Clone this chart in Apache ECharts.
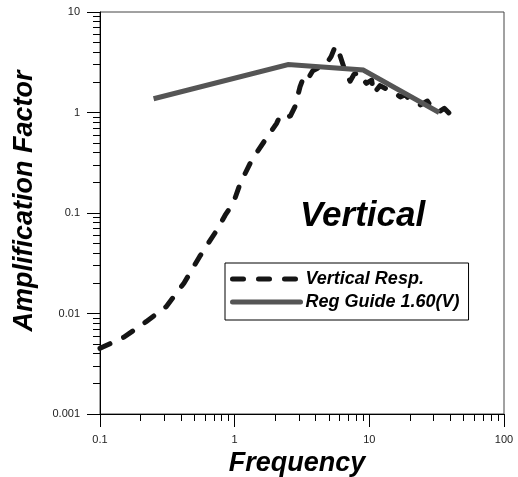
<!DOCTYPE html>
<html>
<head>
<meta charset="utf-8">
<script src="https://cdn.jsdelivr.net/npm/echarts@6/dist/echarts.min.js"></script>
<style>
  html, body { margin: 0; padding: 0; background: #fff; }
  #main { width: 518px; height: 477px; }
</style>
</head>
<body>
<div id="main"></div>
<script>
(function () {
    var chart = echarts.init(document.getElementById('main'));

    // measured response (freq Hz, amplification)
    var respFreq = [0.1, 0.15, 0.22, 0.31, 0.42, 0.55, 0.74, 0.85, 0.98, 1.1, 1.34, 1.68, 2.05, 2.15, 2.25, 2.6, 2.8, 3.06, 3.33, 3.6, 3.8, 4.8, 5.2, 5.6, 6.05, 6.6, 7.2, 7.7, 8.3, 9.5, 10.4, 10.8, 12, 13.9, 15, 17, 18.5, 20, 24, 27, 29, 33, 36, 39, 42, 45.5];
    var respAmp = [0.0045, 0.0058, 0.0083, 0.0117, 0.02, 0.037, 0.068, 0.095, 0.127, 0.197, 0.337, 0.53, 0.78, 0.9, 0.85, 0.93, 1.14, 1.81, 2.45, 2.3, 2.6, 3.05, 3.6, 4.6, 3.7, 2.6, 2.05, 2.4, 2.5, 1.95, 2.1, 1.55, 1.85, 1.67, 1.6, 1.43, 1.5, 1.33, 1.19, 1.3, 1.12, 1.02, 1.1, 0.99, 1.08, 1.06];

    // Reg Guide 1.60 vertical spectrum shape
    var rgFreq = [0.25, 2.5, 9, 33];
    var rgAmp = [1.37, 3.0, 2.65, 1.0];

    var xTicks = [0.1, 1, 10, 100];
    var yTicks = [0.001, 0.01, 0.1, 1, 10];

    var seriesNames = ['Vertical Resp.', 'Reg Guide 1.60(V)'];

    function pairs(xs, ys) {
        var res = [];
        for (var i = 0; i < xs.length; i++) {
            res.push([xs[i], ys[i]]);
        }
        return res;
    }

    // 2..9 minor ticks between decades
    function minorTicks(majors) {
        var res = [];
        for (var i = 0; i < majors.length - 1; i++) {
            for (var k = 2; k <= 9; k++) {
                res.push(+(majors[i] * k).toPrecision(3));
            }
        }
        return res;
    }

    var font = '"Liberation Sans", Arial, sans-serif';

    function majorAxis(ticks, extra) {
        var a = {
            type: 'log',
            logBase: 10,
            min: ticks[0],
            max: ticks[ticks.length - 1],
            axisLine: { show: true, lineStyle: { color: '#000', width: 1 } },
            axisTick: { show: true, inside: false, length: 13, customValues: ticks, lineStyle: { color: '#000' } },
            splitLine: { show: false }
        };
        for (var k in extra) a[k] = extra[k];
        return a;
    }

    function minorAxis(ticks, pos) {
        return {
            type: 'log',
            logBase: 10,
            position: pos,
            min: ticks[0],
            max: ticks[ticks.length - 1],
            axisLine: { show: false },
            axisTick: { show: true, inside: false, length: 7, customValues: minorTicks(ticks), lineStyle: { color: '#000' } },
            axisLabel: { show: false },
            splitLine: { show: false }
        };
    }

    var nameStyle = { fontFamily: font, fontSize: 27, fontWeight: 'bold', fontStyle: 'italic', color: '#000' };

    var option = {
        backgroundColor: '#fff',
        animation: false,
        grid: {
            left: 100, top: 12, right: 14, bottom: 63,
            outerBoundsMode: 'none',
            containLabel: false,
            show: true, borderColor: '#444', borderWidth: 1
        },
        title: {
            text: 'Vertical',
            left: 300,
            top: 199,
            padding: 0,
            textStyle: { fontFamily: font, fontSize: 35, fontWeight: 'bold', fontStyle: 'italic', color: '#000' }
        },
        legend: {
            data: seriesNames,
            orient: 'vertical',
            left: 225,
            top: 263,
            padding: [7, 9, 9, 5],
            itemGap: 5,
            itemWidth: 68,
            itemHeight: 14,
            borderColor: '#000',
            borderWidth: 1,
            borderRadius: 0,
            itemStyle: { opacity: 0, color: 'rgba(0,0,0,0)', borderWidth: 0 },
            lineStyle: { width: 5, cap: 'round', opacity: 1 },
            textStyle: { fontFamily: font, fontSize: 18, fontWeight: 'bold', fontStyle: 'italic', color: '#000', padding: 0 }
        },
        xAxis: [
            majorAxis(xTicks, {
                position: 'bottom',
                name: 'Frequency',
                nameLocation: 'middle',
                nameGap: 36,
                nameTextStyle: Object.assign({ padding: [0, 10, 0, 0] }, nameStyle),
                axisLabel: {
                    customValues: xTicks, color: '#222', fontSize: 11, fontFamily: font, margin: 20,
                    formatter: function (v) { return String(v); }
                }
            }),
            minorAxis(xTicks, 'bottom')
        ],
        yAxis: [
            majorAxis(yTicks, {
                position: 'left',
                name: 'Amplification Factor',
                nameLocation: 'middle',
                nameGap: 62,
                nameTextStyle: Object.assign({ padding: [0, 0, 0, 24] }, nameStyle),
                axisLabel: {
                    customValues: yTicks, color: '#222', fontSize: 11, fontFamily: font, margin: 20,
                    formatter: function (v) { return String(v); }
                }
            }),
            minorAxis(yTicks, 'left')
        ],
        series: [
            {
                name: seriesNames[0],
                type: 'line',
                showSymbol: false,
                symbol: 'none',
                data: pairs(respFreq, respAmp),
                lineStyle: { color: '#151515', width: 5, type: [11, 15], cap: 'round', join: 'round' },
                itemStyle: { color: '#151515' },
                z: 3
            },
            {
                name: seriesNames[1],
                type: 'line',
                showSymbol: false,
                symbol: 'none',
                data: pairs(rgFreq, rgAmp),
                lineStyle: { color: '#555', width: 5, cap: 'butt', join: 'miter' },
                itemStyle: { color: '#555' },
                z: 4
            }
        ]
    };

    chart.setOption(option);
})();
</script>
</body>
</html>
